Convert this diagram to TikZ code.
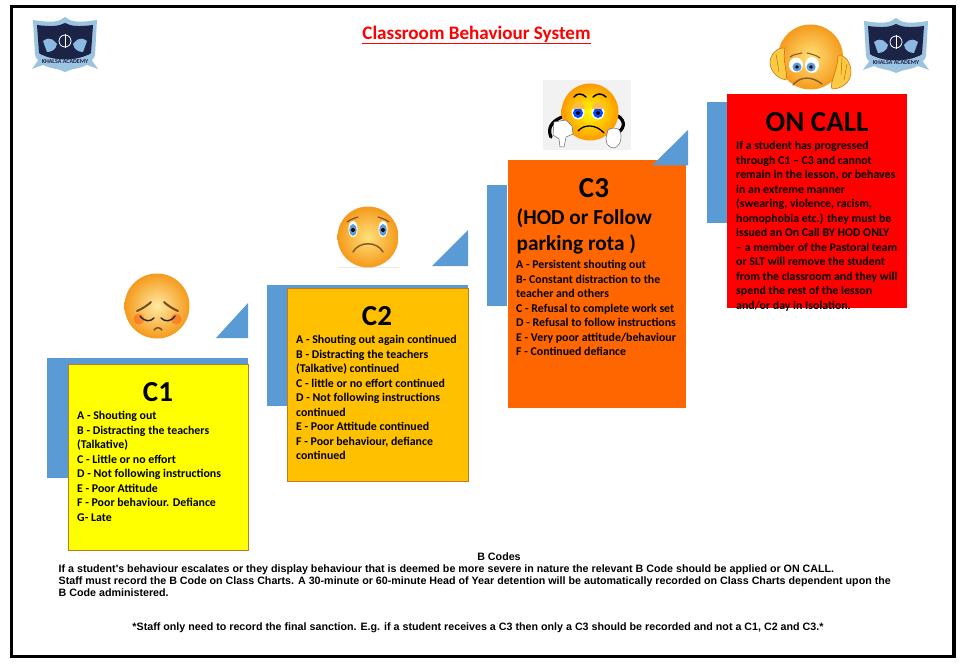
\documentclass[tikz,border=0pt]{standalone}
\usepackage{fontspec}
\setmainfont{Carlito}
\newfontfamily\arialfont{Liberation Sans}
\definecolor{stepblue}{HTML}{5B9BD5}
\definecolor{edgeorange}{HTML}{C0792A}
\definecolor{cone}{HTML}{FFFF00}
\definecolor{ctwo}{HTML}{FFC000}
\definecolor{cthree}{HTML}{FF6600}
\definecolor{crest}{HTML}{FF0000}
\definecolor{shieldnavy}{HTML}{1B2347}
\definecolor{shieldblue}{HTML}{9CC3E0}
\definecolor{skinlight}{HTML}{FFE27A}
\definecolor{skindark}{HTML}{F59A1C}
\definecolor{handyellow}{HTML}{FBCB45}
\tikzset{
  x=1pt,y=-1pt,
  bluepart/.style={fill=stepblue,draw=none},
  levelbox/.style={anchor=north west,inner sep=0pt,outer sep=0pt,minimum width=#1},
  heading/.style={font=\bfseries\fontsize{29}{32}\selectfont,inner sep=0pt,align=center},
  subheading/.style={font=\bfseries\fontsize{21.3}{26.5}\selectfont,inner sep=0pt,align=left,anchor=north west},
  bodytext/.style={font=\bfseries\fontsize{11.85}{14.5}\selectfont,inner sep=0pt,align=left,anchor=north west},
  notetext/.style={font=\arialfont\bfseries\fontsize{10.7}{12.2}\selectfont,inner sep=0pt,align=left},
  facefill/.style={inner color=skinlight,outer color=skindark,draw=none},
  featureline/.style={draw=#1,line width=1.1pt,line cap=round,fill=none},
  handshape/.style={fill=handyellow,draw=orange!80!black,line width=.5pt},
}
\newcommand{\academylogo}[2]{%
 \begin{scope}[shift={(#1,#2)}]
  \fill[shieldblue] (-32,-30) .. controls (-12,-27) and (-6,-28) .. (0,-33) .. controls (6,-28) and (12,-27) .. (32,-30)
     -- (30,5) .. controls (28,14) and (14,16) .. (0,22) .. controls (-14,16) and (-28,14) .. (-30,5) -- cycle;
  \fill[shieldnavy] (-28,-25) .. controls (-12,-23) and (-6,-24) .. (0,-27) .. controls (6,-24) and (12,-23) .. (28,-25)
     -- (26,3) .. controls (18,9) and (8,11) .. (0,16) .. controls (-8,11) and (-18,9) .. (-26,3) -- cycle;
  \fill[stepblue!70!white] (-22,-9) .. controls (-14,-15) and (-10,-8) .. (-8,-6) .. controls (-9,0) and (-14,2) .. (-18,2) -- cycle;
  \fill[stepblue!70!white] (22,-9) .. controls (14,-15) and (10,-8) .. (8,-6) .. controls (9,0) and (14,2) .. (18,2) -- cycle;
  \draw[white,line width=.8pt] (0,-9) circle (6);
  \draw[white,line width=1pt] (0,-16) -- (0,-2);
  \fill[shieldblue] (-33,19) -- (-23,5) .. controls (-10,11) and (10,11) .. (23,5) -- (33,19) -- (22,15) .. controls (10,21) and (-10,21) .. (-22,15) -- cycle;
  \node[inner sep=0pt,text=shieldnavy,font=\bfseries\fontsize{6}{6}\selectfont] at (0,12) {KHALSA ACADEMY};
 \end{scope}}
\begin{document}
\begin{tikzpicture}
\useasboundingbox (0,0) rectangle (971,671);
\fill[white] (0,0) rectangle (971,671);
\draw[black,line width=3.4pt] (11.5,6.5) rectangle (954,656.5);

% logos
\academylogo{65}{50}
\academylogo{896}{51}

% title
\node[inner sep=0pt,text=red,font=\bfseries\fontsize{19.1}{22}\selectfont] (title) at (476.5,35) {\underline{Classroom Behaviour System}};

% C1 level
\fill[bluepart] (47,358) rectangle (248,478);
\fill[bluepart] (216,338) -- (248,303) -- (248,338) -- cycle;
\node[levelbox=180pt,minimum height=186pt,fill=cone,draw=edgeorange,line width=.8pt] (c1box) at (68,364) {};
\node[heading] (c1head) at (158,392) {C1};
\node[bodytext] (c1text) at (77,411) {A - Shouting out\\B - Distracting the teachers\\(Talkative)\\C - Little or no effort\\D - Not following instructions\\E - Poor Attitude\\F - Poor behaviour. Defiance\\G- Late};

% C2 level
\fill[bluepart] (267,285) rectangle (468,406);
\fill[bluepart] (432,266) -- (468,230) -- (468,266) -- cycle;
\node[levelbox=181pt,minimum height=193pt,fill=ctwo,draw=edgeorange,line width=.8pt] (c2box) at (287,288) {};
\node[heading] (c2head) at (377,316) {C2};
\node[bodytext] (c2text) at (296,335) {A - Shouting out again continued\\B - Distracting the teachers\\(Talkative) continued\\C - little or no effort continued\\D - Not following instructions\\continued\\E - Poor Attitude continued\\F - Poor behaviour, defiance\\continued};

% C3 level
\fill[bluepart] (487,185) rectangle (507,306);
\node[levelbox=178pt,minimum height=248pt,fill=cthree] (c3box) at (508,160) {};
\fill[bluepart] (652,165.5) -- (688,130) -- (688,165.5) -- cycle;
\node[heading] (c3head) at (594,188) {C3};
\node[subheading] (c3sub) at (516.5,208) {(HOD or Follow\\parking rota )};
\node[bodytext] (c3text) at (516,260) {A - Persistent shouting out\\B- Constant distraction to the\\teacher and others\\C - Refusal to complete work set\\D - Refusal to follow instructions\\E - Very poor attitude/behaviour\\F - Continued defiance};

% ON CALL level
\fill[bluepart] (707,102) rectangle (727,223);
\node[levelbox=180pt,minimum height=214pt,fill=crest] (oncallbox) at (727,94) {};
\node[heading] (oncallhead) at (817,122) {ON CALL};
\node[bodytext] (oncalltext) at (736,141) {If a student has progressed\\through C1 – C3 and cannot\\remain in the lesson, or behaves\\in an extreme manner\\(swearing, violence, racism,\\homophobia etc.) they must be\\issued an On Call BY HOD ONLY\\– a member of the Pastoral team\\or SLT will remove the student\\from the classroom and they will\\spend the rest of the lesson\\and/or day in Isolation.};

% C1 face
\shade[inner color=skinlight!70!white,outer color=skindark] (157,306) circle (32.5);
\fill[red!60!orange,opacity=.35] (139,319) circle (5.5);
\fill[red!60!orange,opacity=.35] (176,319) circle (5.5);
\draw[featureline=black!85,line width=1.4pt] (140,316) .. controls (145,322) and (150,322) .. (154,318);
\draw[featureline=black!85,line width=1.4pt] (161,318) .. controls (165,322) and (171,322) .. (175,316);
\draw[featureline=brown!60!black,line width=2pt] (137,311) .. controls (142,309) and (148,305) .. (151,302);
\draw[featureline=brown!60!black,line width=2pt] (164,302) .. controls (167,305) and (173,309) .. (178,311);
\draw[featureline=brown!60!black,line width=1.4pt] (154,330) .. controls (156,327) and (160,327) .. (162,330);

% C2 face
\fill[black!8] (338,267) rectangle (399,267.6);
\shade[facefill] (368,237) circle (30.5);
\fill[white] (353,229) ellipse (4.6 and 8);
\fill[white] (383,229) ellipse (4.6 and 8);
\fill[stepblue] (353,230) ellipse (3.6 and 6);
\fill[stepblue] (383,230) ellipse (3.6 and 6);
\fill[black] (353,230) circle (2);
\fill[black] (383,230) circle (2);
\draw[featureline=brown!60!black] (347,222) .. controls (351,219) and (355,218) .. (358,217);
\draw[featureline=brown!60!black] (378,217) .. controls (381,218) and (385,219) .. (389,222);
\draw[featureline=brown!70!black,line width=1.5pt] (353,252) .. controls (359,241) and (377,241) .. (383,252);

% C3 face
\fill[black!5] (543,80) rectangle (631,150);
\draw[black,line width=3.2pt,line cap=round] (562,117) .. controls (552,121) and (547,128) .. (551,137);
\draw[black,line width=3.2pt,line cap=round] (618,116) .. controls (626,121) and (625,130) .. (615,134);
\shade[inner color=yellow,outer color=orange!80!yellow] (590,112) circle (28.5);
\fill[white] (578,112) ellipse (6.5 and 7.5);
\fill[white] (598,112) ellipse (6.5 and 7.5);
\fill[blue!70!cyan] (578,113) circle (5);
\fill[blue!70!cyan] (598,113) circle (5);
\fill[black] (578,113) circle (2);
\fill[black] (598,113) circle (2);
\fill[skinlight!60!orange] (572,109) .. controls (573,100) and (584,100) .. (585,109) -- cycle;
\fill[skinlight!60!orange] (592,109) .. controls (593,100) and (604,100) .. (605,109) -- cycle;
\draw[featureline=black,line width=1.5pt] (574,97) .. controls (577,93) and (582,93) .. (586,97);
\draw[featureline=black,line width=1.5pt] (593,97) .. controls (597,93) and (602,93) .. (606,97);
\draw[featureline=black,line width=1.3pt] (578,131) .. controls (584,124) and (596,124) .. (604,133);
\filldraw[fill=white,draw=black!60,line width=.5pt] (554,122) -- (566,120) -- (572,126) -- (573,134) -- (566,137) -- (564,147) -- (560,147) -- (559,139) -- (553,135) -- cycle;
\filldraw[fill=white,draw=black!60,line width=.5pt] (607,134) .. controls (606,128) and (614,127) .. (618,129) .. controls (623,132) and (622,146) .. (614,148) .. controls (608,148) and (604,142) .. (607,134) -- cycle;

% ON CALL face
\shade[facefill] (810.5,57) circle (32.5);
\draw[handshape] (785,48) .. controls (776,47) and (770,56) .. (770,62) .. controls (770,70) and (776,78) .. (786,80) .. controls (788,72) and (782,60) .. (785,48) -- cycle;
\draw[handshape] (838,56) .. controls (846,54) and (851,64) .. (851,72) .. controls (851,82) and (842,89) .. (832,89) .. controls (829,83) and (838,70) .. (838,56) -- cycle;
\draw[orange!80!black,line width=.5pt] (842,58) -- (841,75) (847,64) -- (844,80);
\draw[orange!80!black,line width=.5pt] (776,54) -- (779,72);
\fill[white] (796,65) ellipse (7 and 7.5);
\fill[white] (812,65) ellipse (7 and 8);
\fill[stepblue] (797,67) circle (4.5);
\fill[stepblue] (811,67) circle (4.5);
\fill[black] (797,67) circle (1.8);
\fill[black] (811,67) circle (1.8);
\draw[featureline=brown!70!black] (790,57) .. controls (794,54) and (798,54) .. (802,53);
\draw[featureline=brown!70!black] (807,53) .. controls (811,54) and (816,55) .. (820,58);
\draw[featureline=brown!70!black,line width=1.4pt] (793,85) .. controls (800,76) and (812,76) .. (822,84);

% notes
\node[notetext,anchor=center] (bcodes) at (499,556.5) {B Codes};
\node[notetext,anchor=north west] (bnote) at (58.5,564.5) {If a student's behaviour escalates or they display behaviour that is deemed be more severe in nature the relevant B Code should be applied or ON CALL.\\Staff must record the B Code on Class Charts. A 30-minute or 60-minute Head of Year detention will be automatically recorded on Class Charts dependent upon the\\B Code administered.};
\node[notetext,anchor=center] (final) at (478,627.5) {*Staff only need to record the final sanction. E.g. if a student receives a C3 then only a C3 should be recorded and not a C1, C2 and C3.*};
\end{tikzpicture}
\end{document}
